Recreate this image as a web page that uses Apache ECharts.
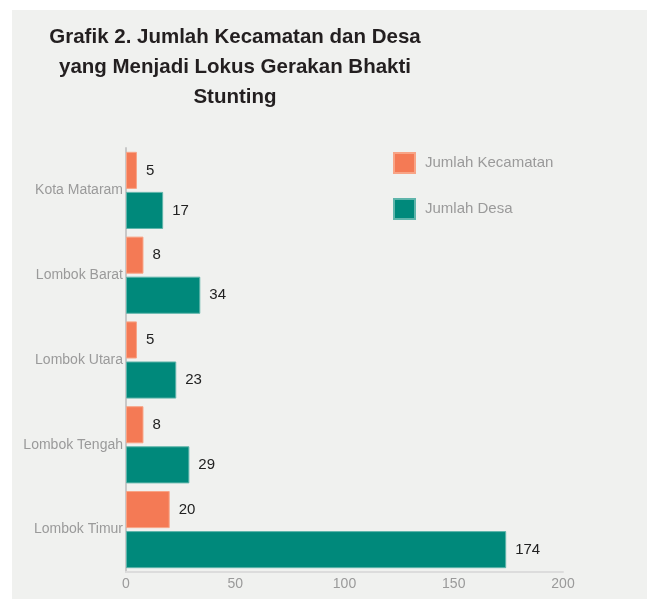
<!DOCTYPE html>
<html>
<head>
<meta charset="utf-8">
<script src="https://cdn.jsdelivr.net/npm/echarts@6/dist/echarts.min.js"></script>
<style>
html,body{margin:0;padding:0;background:#ffffff;}
#chart{position:absolute;left:12px;top:10px;width:635px;height:589px;}
</style>
</head>
<body>
<div id="chart"></div>
<script>
const categories = ['Kota Mataram', 'Lombok Barat', 'Lombok Utara', 'Lombok Tengah', 'Lombok Timur'];
const kecamatan = [5, 8, 5, 8, 20];
const desa = [17, 34, 23, 29, 174];
const seriesNames = ['Jumlah Kecamatan', 'Jumlah Desa'];
const xTicks = [0, 50, 100, 150, 200];

const font = '"Liberation Sans", Arial, sans-serif';
const chart = echarts.init(document.getElementById('chart'));
chart.setOption({
  backgroundColor: '#f0f1ef',
  animation: false,
  title: {
    text: 'Grafik 2. Jumlah Kecamatan dan Desa\nyang Menjadi Lokus Gerakan Bhakti\nStunting',
    left: 218,
    top: 7,
    textAlign: 'center',
    textStyle: {
      fontFamily: font,
      fontWeight: 'bold',
      fontSize: 20.5,
      lineHeight: 30,
      color: '#231f20'
    }
  },
  legend: {
    orient: 'vertical',
    left: 381,
    top: 142,
    padding: 0,
    itemWidth: 21,
    itemHeight: 20,
    itemGap: 24,
    icon: 'rect',
    textStyle: { fontFamily: font, fontSize: 15, color: '#9a9a9a', padding: [0, 0, 0, 5] },
    data: seriesNames
  },
  grid: { left: 114, top: 138, right: 84, bottom: 27, containLabel: false },
  xAxis: {
    type: 'value',
    min: xTicks[0],
    max: xTicks[xTicks.length - 1],
    interval: 50,
    axisLine: { show: true, lineStyle: { color: '#dcdcdc', width: 2 } },
    axisTick: { show: false },
    splitLine: { show: false },
    axisLabel: { fontFamily: font, fontSize: 14, color: '#9a9a9a', margin: 5 }
  },
  yAxis: {
    type: 'category',
    inverse: true,
    data: categories,
    axisLine: { show: true, lineStyle: { color: '#c8c8c8', width: 2 } },
    axisTick: { show: false },
    axisLabel: { fontFamily: font, fontSize: 14, color: '#9a9a9a', margin: 3 }
  },
  series: [
    {
      name: seriesNames[0],
      type: 'bar',
      data: kecamatan,
      barGap: '8%',
      barCategoryGap: '9%',
      itemStyle: { color: '#f47a55', borderColor: '#f8a486', borderWidth: 1 },
      label: { show: true, position: 'right', distance: 9, fontFamily: font, fontSize: 15, color: '#222222' }
    },
    {
      name: seriesNames[1],
      type: 'bar',
      data: desa,
      itemStyle: { color: '#00897b', borderColor: '#5fb5ab', borderWidth: 1 },
      label: { show: true, position: 'right', distance: 9, fontFamily: font, fontSize: 15, color: '#222222' }
    }
  ]
});
</script>
</body>
</html>
